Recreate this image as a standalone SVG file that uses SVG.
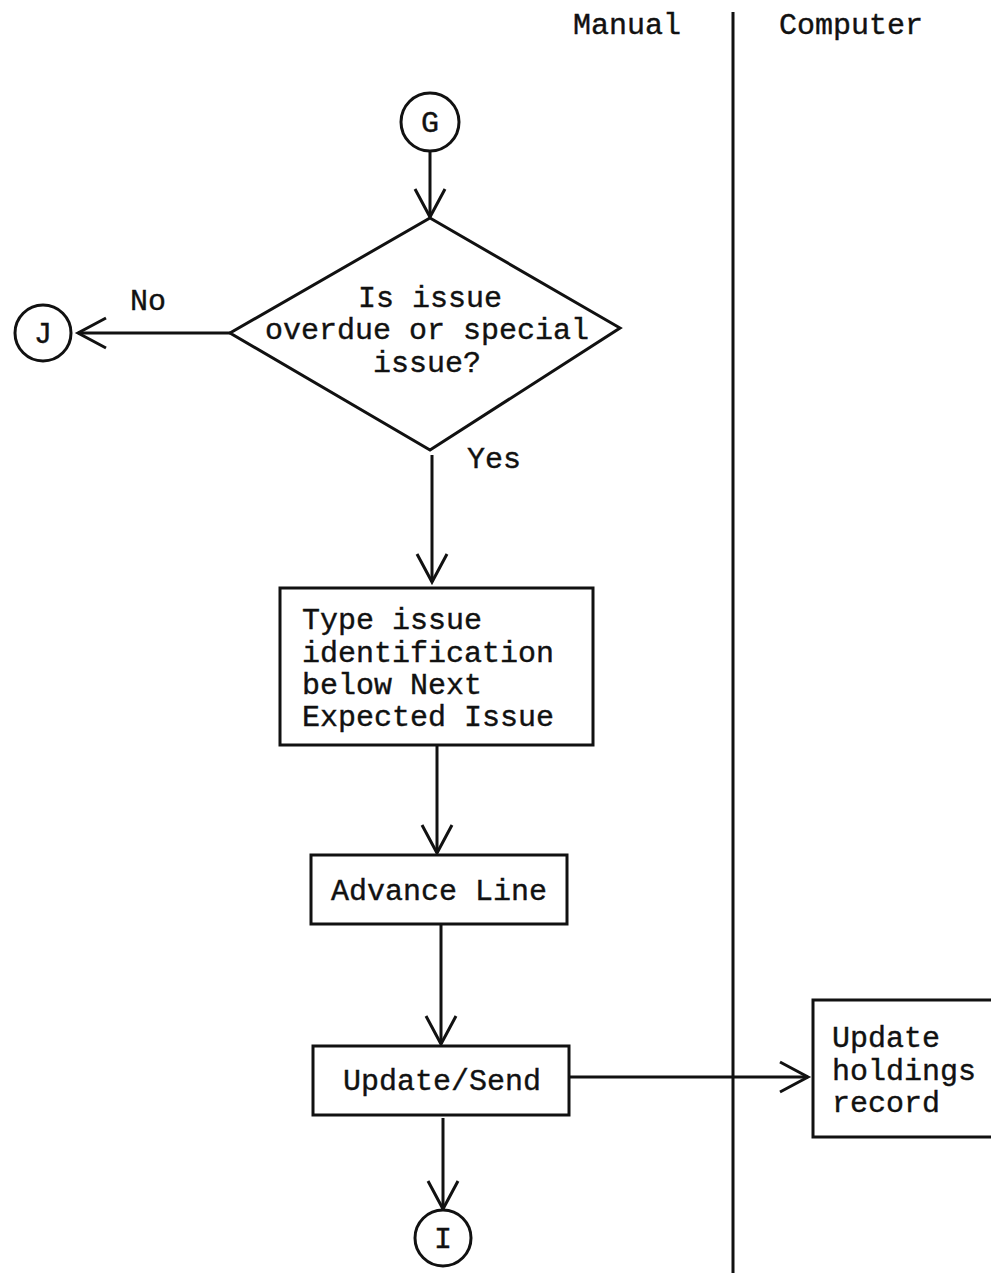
<svg xmlns="http://www.w3.org/2000/svg" width="991" height="1273" viewBox="0 0 991 1273">
<style>
text{font-family:"Liberation Mono","DejaVu Sans Mono",monospace;font-size:30px;fill:#111;stroke:#111;stroke-width:0.4}
.s{fill:none;stroke:#111;stroke-width:3}
.b{fill:#fff;stroke:#111;stroke-width:3}
</style>
<defs>
<marker id="ah" markerUnits="userSpaceOnUse" markerWidth="40" markerHeight="40" viewBox="-32 -20 40 40" refX="0" refY="0" orient="auto">
<path d="M-28,-15 L0,0 L-28,15" fill="none" stroke="#111" stroke-width="3"/>
</marker>
</defs>
<rect width="991" height="1273" fill="#fff"/>
<g id="lanes">
<line x1="733" y1="12" x2="733" y2="1273" class="s"/>
<text x="573" y="34">Manual</text>
<text x="779" y="34">Computer</text>
</g>
<g id="connectors" class="s">
<line x1="430" y1="152" x2="430" y2="217" marker-end="url(#ah)"/>
<line x1="230" y1="333" x2="78" y2="333" marker-end="url(#ah)"/>
<line x1="432" y1="455" x2="432" y2="582" marker-end="url(#ah)"/>
<line x1="437" y1="746" x2="437" y2="853" marker-end="url(#ah)"/>
<line x1="441" y1="924" x2="441" y2="1044" marker-end="url(#ah)"/>
<line x1="569" y1="1077" x2="808" y2="1077" marker-end="url(#ah)"/>
<line x1="443" y1="1118" x2="443" y2="1209" marker-end="url(#ah)"/>
</g>
<g id="G">
<circle cx="430" cy="122" r="29" class="b"/>
<text x="430" y="132" text-anchor="middle">G</text>
</g>
<g id="decision">
<polygon points="430,218 620,328 430,450 230,333" class="b"/>
<text x="430" y="307" text-anchor="middle">Is issue</text>
<text x="427" y="339" text-anchor="middle">overdue or special</text>
<text x="427" y="372" text-anchor="middle">issue?</text>
</g>
<text x="130" y="310">No</text>
<text x="467" y="468">Yes</text>
<g id="J">
<circle cx="43" cy="333" r="28" class="b"/>
<text x="43" y="343" text-anchor="middle">J</text>
</g>
<g id="type">
<rect x="280" y="588" width="313" height="157" class="b"/>
<text x="302" y="629">Type issue</text>
<text x="302" y="662">identification</text>
<text x="302" y="694">below Next</text>
<text x="302" y="726">Expected Issue</text>
</g>
<g id="advance">
<rect x="311" y="855" width="256" height="69" class="b"/>
<text x="439" y="900" text-anchor="middle">Advance Line</text>
</g>
<g id="update">
<rect x="313" y="1046" width="256" height="69" class="b"/>
<text x="442" y="1090" text-anchor="middle">Update/Send</text>
</g>
<g id="holdings">
<rect x="813" y="1000" width="190" height="137" class="b"/>
<text x="832" y="1047">Update</text>
<text x="832" y="1080">holdings</text>
<text x="832" y="1112">record</text>
</g>
<g id="I">
<circle cx="443" cy="1238" r="28" class="b"/>
<text x="443" y="1248" text-anchor="middle">I</text>
</g>
</svg>
